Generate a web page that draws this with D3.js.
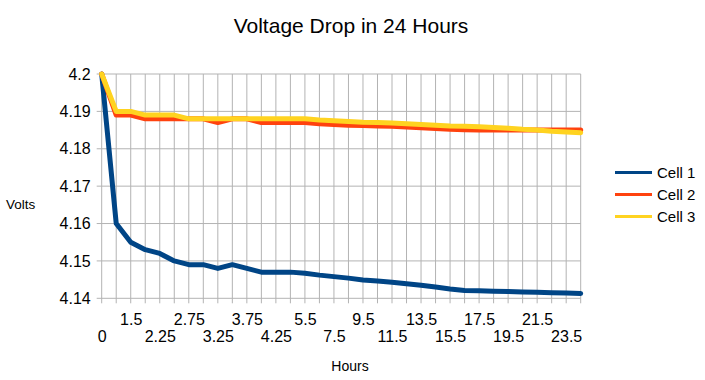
<!DOCTYPE html>
<html><head><meta charset="utf-8">
<script src="https://cdn.jsdelivr.net/npm/d3@7"></script>
<style>body{margin:0;background:#fff;} text{font-family:"Liberation Sans",Arial,sans-serif;fill:#000;}</style>
</head><body>
<svg id="c" width="705" height="380"></svg>
<script>
const hours = ["0","0.75","1.5","2","2.25","2.5","2.75","3","3.25","3.5","3.75","4","4.25","4.75","5.5","6.5","7.5","8.5","9.5","10.5","11.5","12.5","13.5","14.5","15.5","16.5","17.5","18.5","19.5","20.5","21.5","22.5","23.5","24"];
const cell1 = [4.2,4.160,4.155,4.153,4.152,4.150,4.149,4.149,4.148,4.149,4.148,4.147,4.147,4.147,4.1467,4.1462,4.1458,4.1454,4.1449,4.1446,4.1443,4.1439,4.1435,4.143,4.1425,4.1421,4.142,4.1419,4.1418,4.1417,4.1416,4.1415,4.1414,4.1413];
const cell2 = [4.2,4.189,4.189,4.188,4.188,4.188,4.188,4.188,4.187,4.188,4.188,4.187,4.187,4.187,4.187,4.1867,4.1865,4.1863,4.1862,4.1861,4.186,4.1858,4.1856,4.1854,4.1852,4.1851,4.185,4.185,4.185,4.185,4.185,4.185,4.185,4.185];
const cell3 = [4.2,4.190,4.190,4.189,4.189,4.189,4.188,4.188,4.188,4.188,4.188,4.188,4.188,4.188,4.188,4.1877,4.1875,4.1873,4.1871,4.187,4.1869,4.1867,4.1865,4.1863,4.1861,4.186,4.1859,4.1857,4.1855,4.1852,4.185,4.1847,4.1845,4.1843];
const seriesNames = ["Cell 1","Cell 2","Cell 3"];
const yTicks = [4.14,4.15,4.16,4.17,4.18,4.19,4.2];

const colors = ["#004586","#ff420e","#ffd320"];
const svg = d3.select("#c");
const L=101.7, R=580.7, T=74, B=298.3;
const x = d3.scalePoint().domain(hours).range([L,R]);
const y = d3.scaleLinear().domain([4.14,4.2]).range([B,T]);

// grid
svg.append("g").selectAll("line").data(hours).join("line")
  .attr("x1",d=>x(d)).attr("x2",d=>x(d)).attr("y1",T).attr("y2",B+5)
  .attr("stroke","#b3b3b3").attr("stroke-width",1);
svg.append("g").selectAll("line").data(yTicks).join("line")
  .attr("x1",L-5).attr("x2",R).attr("y1",d=>y(d)).attr("y2",d=>y(d))
  .attr("stroke","#b3b3b3").attr("stroke-width",1);

// y axis labels
const yAxis = d3.axisLeft(y).tickValues(yTicks).tickFormat(d=>String(+d.toFixed(2))).tickSize(0).tickPadding(11);
const ya = svg.append("g").attr("transform",`translate(${L},0)`).call(yAxis);
ya.select(".domain").remove();
ya.selectAll("text").style("font-size","16px").attr("font-family",null);

// x axis labels (every other category, staggered)
const shown = hours.filter((d,i)=>i%2===0);
const xAxis = d3.axisBottom(x).tickValues(shown).tickSize(0);
const xa = svg.append("g").attr("transform",`translate(0,${B})`).call(xAxis);
xa.select(".domain").remove();
xa.selectAll("text").style("font-size","16px").attr("font-family",null)
  .attr("dy",null)
  .attr("y",(d,i)=> i%2===0 ? 44 : 27);

// lines
const line = d3.line().x((d,i)=>x(hours[i])).y(d=>y(d));
[cell1,cell2,cell3].forEach((s,k)=>{
  svg.append("path").datum(s).attr("d",line).attr("fill","none")
    .attr("stroke",colors[k]).attr("stroke-width",5)
    .attr("stroke-linejoin","round").attr("stroke-linecap","round");
});

// title
svg.append("text").attr("x",351).attr("y",33).attr("text-anchor","middle")
  .style("font-size","21px").text("Voltage Drop in 24 Hours");
svg.append("text").attr("x",6).attr("y",209).style("font-size","13.5px").text("Volts");
svg.append("text").attr("x",350).attr("y",371).attr("text-anchor","middle").style("font-size","14px").text("Hours");

// legend
const lg = svg.append("g");
seriesNames.forEach((n,k)=>{
  const yy = 172.5 + k*22;
  lg.append("line").attr("x1",615).attr("x2",652).attr("y1",yy).attr("y2",yy)
    .attr("stroke",colors[k]).attr("stroke-width",3);
  lg.append("text").attr("x",657).attr("y",yy+5.5).style("font-size","15px").text(n);
});
</script>
</body></html>
